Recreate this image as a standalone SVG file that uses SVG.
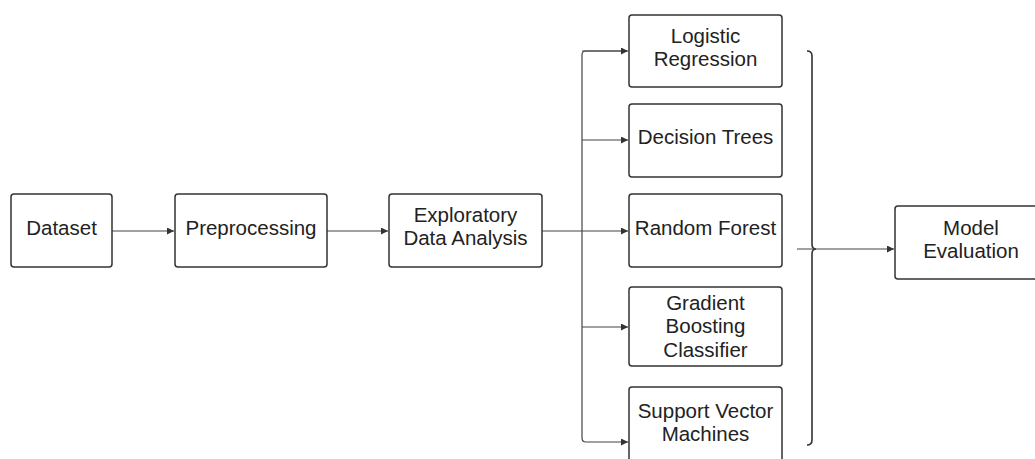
<svg xmlns="http://www.w3.org/2000/svg" width="1035" height="459" viewBox="0 0 1035 459">
<defs>
<style>
.box{fill:#fff;stroke:#333;stroke-width:1.5}
.t{font-family:"Liberation Sans",Arial,sans-serif;font-size:20.5px;fill:#222;text-anchor:middle}
.c{fill:none;stroke:#444;stroke-width:1.2}
.br{fill:none;stroke:#333;stroke-width:1.6}
</style>
<marker id="ah" viewBox="0 0 10 10" refX="10" refY="5" markerWidth="9" markerHeight="7" markerUnits="userSpaceOnUse" orient="auto">
<path d="M0,0 L10,5 L0,10 z" fill="#333"/>
</marker>
</defs>
<rect width="1035" height="459" fill="#fff"/>
<g id="connectors">
<path class="c" d="M112,231 H174" marker-end="url(#ah)"/>
<path class="c" d="M327,231 H388" marker-end="url(#ah)"/>
<path class="c" d="M542,231 H628" marker-end="url(#ah)"/>
<path class="c" d="M627,51 H586 Q582,51 582,55 V438 Q582,442 586,442 H628" marker-end="url(#ah)"/>
<path class="c" d="M582,51 H628" marker-end="url(#ah)"/>
<path class="c" d="M582,140 H628" marker-end="url(#ah)"/>
<path class="c" d="M582,327 H628" marker-end="url(#ah)"/>
<path class="br" d="M807,51 Q812,51 812,56 V244 Q812,249 816,249 Q812,249 812,254 V440 Q812,445 807,445"/>
<path class="c" d="M797,249 H894" marker-end="url(#ah)"/>
</g>
<g id="dataset">
<rect class="box" x="11" y="194" width="101" height="73" rx="3"/>
<text class="t" x="61.5" y="234.5">Dataset</text>
</g>
<g id="preprocessing">
<rect class="box" x="175" y="194" width="152" height="73" rx="3"/>
<text class="t" x="251" y="234.5">Preprocessing</text>
</g>
<g id="eda">
<rect class="box" x="389" y="194" width="153" height="73" rx="3"/>
<text class="t" x="465.5" y="222">Exploratory</text>
<text class="t" x="465.5" y="245">Data Analysis</text>
</g>
<g id="logistic">
<rect class="box" x="629" y="15" width="153" height="72" rx="3"/>
<text class="t" x="705.5" y="42.5">Logistic</text>
<text class="t" x="705.5" y="65.5">Regression</text>
</g>
<g id="decision">
<rect class="box" x="629" y="104" width="153" height="73" rx="3"/>
<text class="t" x="705.5" y="144">Decision Trees</text>
</g>
<g id="random">
<rect class="box" x="629" y="194" width="153" height="73" rx="3"/>
<text class="t" x="705.5" y="234.5">Random Forest</text>
</g>
<g id="gradient">
<rect class="box" x="629" y="287" width="153" height="79" rx="3"/>
<text class="t" x="705.5" y="309.5">Gradient</text>
<text class="t" x="705.5" y="333">Boosting</text>
<text class="t" x="705.5" y="356.5">Classifier</text>
</g>
<g id="svm">
<rect class="box" x="629" y="387" width="153" height="80" rx="3"/>
<text class="t" x="705.5" y="417.5">Support Vector</text>
<text class="t" x="705.5" y="440.5">Machines</text>
</g>
<g id="evaluation">
<rect class="box" x="895" y="206" width="153" height="73" rx="3"/>
<text class="t" x="971" y="235">Model</text>
<text class="t" x="971" y="258">Evaluation</text>
</g>
</svg>
